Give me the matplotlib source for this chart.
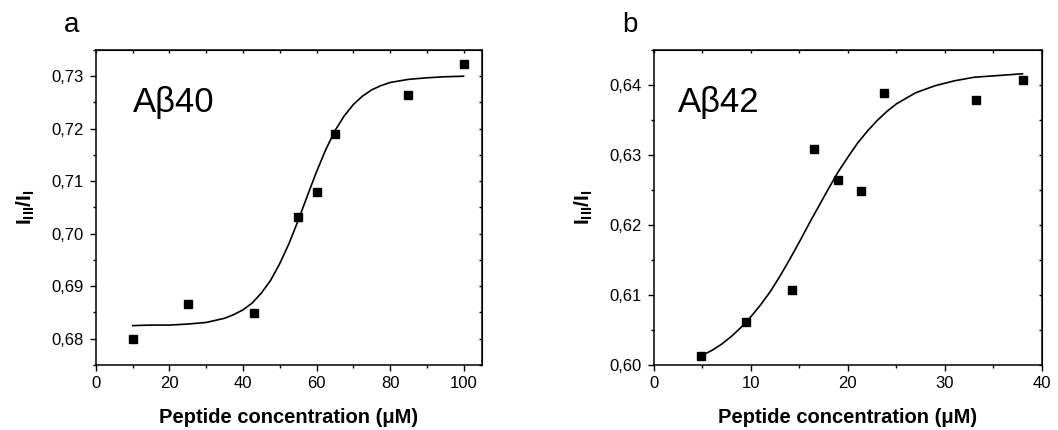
import matplotlib

matplotlib.use("Agg")
import matplotlib.pyplot as plt
import matplotlib.ticker as ticker

plt.rcParams["font.family"] = ["Liberation Sans", "DejaVu Sans"]
plt.rcParams["mathtext.fontset"] = "custom"
plt.rcParams["mathtext.rm"] = "Liberation Sans"
plt.rcParams["mathtext.bf"] = "Liberation Sans:bold"
plt.rcParams["mathtext.it"] = "Liberation Sans:italic"

# panel a: Abeta40 measured points and fitted curve
conc_a = [10, 25, 43, 55, 60, 65, 85, 100]
ratio_a = [0.6800, 0.6866, 0.6849, 0.7031, 0.7079, 0.7189, 0.7265, 0.7323]
fit_x_a = [10, 15, 20, 25, 30, 35, 37.5, 40, 42.5, 45, 47.5, 50, 52.5, 55, 57.5, 60,
           62.5, 65, 67.5, 70, 72.5, 75, 77.5, 80, 85, 90, 95, 100]
fit_y_a = [0.6825, 0.6826, 0.6826, 0.6828, 0.6831, 0.6839, 0.6846, 0.6855, 0.6868,
           0.6887, 0.6911, 0.6943, 0.6981, 0.7025, 0.7072, 0.7118, 0.7160, 0.7196,
           0.7224, 0.7246, 0.7262, 0.7274, 0.7282, 0.7288, 0.7294, 0.7297, 0.7299,
           0.7300]

# panel b: Abeta42 measured points and fitted curve
conc_b = [4.8, 9.5, 14.2, 16.5, 19.0, 21.3, 23.7, 33.2, 38.0]
ratio_b = [0.6013, 0.6062, 0.6107, 0.6308, 0.6264, 0.6248, 0.6389, 0.6379, 0.6407]
fit_x_b = [5, 6, 7, 8, 9, 10, 11, 12, 13, 14, 15, 16, 17, 18, 19, 20, 21, 22, 23, 24,
           25, 27, 29, 31, 33, 35, 38]
fit_y_b = [0.6014, 0.6021, 0.6030, 0.6041, 0.6054, 0.6069, 0.6086, 0.6105, 0.6127,
           0.6151, 0.6176, 0.6202, 0.6227, 0.6252, 0.6276, 0.6297, 0.6317, 0.6334,
           0.6349, 0.6362, 0.6373, 0.6389, 0.6399, 0.6406, 0.6411, 0.6413, 0.6416]

panels = [
    dict(letter="a", name="A\u03b240", x=conc_a, y=ratio_a, fx=fit_x_a, fy=fit_y_a,
         xlim=(0, 105), ylim=(0.675, 0.735), xmaj=20, xmin=10, ymaj=0.01, ymin=0.005,
         pos=[0.0907, 0.1512, 0.3648, 0.7326], txt_x=0.095),
    dict(letter="b", name="A\u03b242", x=conc_b, y=ratio_b, fx=fit_x_b, fy=fit_y_b,
         xlim=(0, 40), ylim=(0.60, 0.645), xmaj=10, xmin=5, ymaj=0.01, ymin=0.005,
         pos=[0.6181, 0.1512, 0.3667, 0.7326], txt_x=0.063),
]

fig = plt.figure(figsize=(10.58, 4.30), dpi=100)

for p in panels:
    ax = fig.add_axes(p["pos"])
    ax.plot(p["fx"], p["fy"], color="black", lw=1.2)
    ax.plot(p["x"], p["y"], "s", color="black", ms=5.5, clip_on=False)
    ax.set_xlim(*p["xlim"])
    ax.set_ylim(*p["ylim"])
    ax.xaxis.set_major_locator(ticker.MultipleLocator(p["xmaj"]))
    ax.xaxis.set_minor_locator(ticker.MultipleLocator(p["xmin"]))
    ax.yaxis.set_major_locator(ticker.MultipleLocator(p["ymaj"]))
    ax.yaxis.set_minor_locator(ticker.MultipleLocator(p["ymin"]))
    ax.yaxis.set_major_formatter(
        ticker.FuncFormatter(lambda v, _pos: f"{v:.2f}".replace(".", ","))
    )
    ax.xaxis.set_major_formatter(ticker.FuncFormatter(lambda v, _pos: f"{v:.0f}"))
    ax.tick_params(which="major", direction="out", length=4, width=1, labelsize=12)
    ax.tick_params(axis="y", which="major", pad=5)
    ax.tick_params(axis="x", which="major", pad=4)
    ax.tick_params(which="minor", direction="out", length=2.5, width=1)
    for spine in ax.spines.values():
        spine.set_linewidth(1.1)

    # inward ticks on the top and right edges
    top = ax.secondary_xaxis("top")
    top.set_xticks(ax.get_xticks(minor=True), minor=True)
    top.set_xticks(ax.get_xticks())
    top.tick_params(which="both", direction="in", length=2, width=1, labeltop=False)
    top.set_xticklabels([])
    right = ax.secondary_yaxis("right")
    right.set_yticks(ax.get_yticks())
    right.set_yticks(ax.get_yticks(minor=True), minor=True)
    right.tick_params(which="both", direction="in", length=2, width=1, labelright=False)
    right.set_yticklabels([])

    ax.set_xlabel("Peptide concentration (\u03bcM)", fontsize=14.5, fontweight="bold",
                  labelpad=12)
    ax.set_ylabel(r"$\mathbf{I_{III}/I_{I}}$", fontsize=15, labelpad=10)
    ax.text(p["txt_x"], 0.804, p["name"], transform=ax.transAxes, fontsize=25,
            ha="left", va="baseline")
    fig.text(p["pos"][0] - 0.03, 0.925, p["letter"], fontsize=20, ha="left",
             va="baseline")

fig.savefig("out.png", dpi=100)
